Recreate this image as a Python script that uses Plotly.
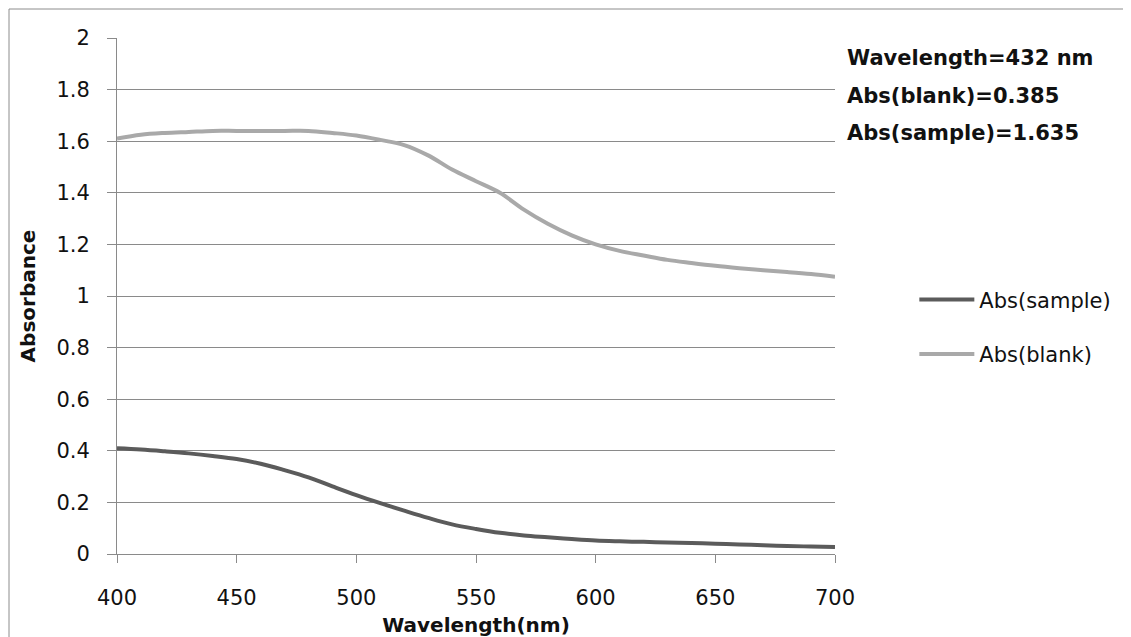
import plotly.graph_objects as go

wavelength = [400, 410, 420, 430, 440, 450, 460, 470, 480, 490, 500, 510, 520, 530, 540, 550,
              560, 570, 580, 590, 600, 610, 620, 630, 640, 650, 660, 670, 680, 690, 700]
abs_sample = [0.41, 0.405, 0.398, 0.39, 0.38, 0.368, 0.35, 0.325, 0.297, 0.262, 0.228, 0.197,
              0.168, 0.14, 0.115, 0.097, 0.082, 0.072, 0.065, 0.058, 0.052, 0.049, 0.047, 0.045,
              0.043, 0.04, 0.037, 0.034, 0.031, 0.029, 0.027]
abs_blank = [1.61, 1.625, 1.632, 1.636, 1.64, 1.64, 1.64, 1.64, 1.64, 1.632, 1.622, 1.605,
             1.585, 1.545, 1.49, 1.445, 1.40, 1.335, 1.28, 1.235, 1.2, 1.175, 1.157, 1.14,
             1.128, 1.117, 1.108, 1.1, 1.093, 1.085, 1.075]
x_ticks = [400, 450, 500, 550, 600, 650, 700]
y_ticks = [0, 0.2, 0.4, 0.6, 0.8, 1, 1.2, 1.4, 1.6, 1.8, 2]
y_tick_labels = ["0", "0.2", "0.4", "0.6", "0.8", "1", "1.2", "1.4", "1.6", "1.8", "2"]
info_lines = ["Wavelength=432 nm", "Abs(blank)=0.385", "Abs(sample)=1.635"]

FONT = "'DejaVu Sans', sans-serif"
GRID = "#8a8a8a"
TXT = "#111111"

fig = go.Figure()
fig.add_trace(go.Scatter(x=wavelength, y=abs_sample, mode="lines", name="Abs(sample)",
                         legendgroup="a", line=dict(color="#5b5b5b", width=4, shape="spline")))
fig.add_trace(go.Scatter(x=wavelength, y=abs_blank, mode="lines", name="Abs(blank)",
                         legendgroup="b", line=dict(color="#a9a9a9", width=4, shape="spline")))

fig.update_layout(
    width=1123, height=629,
    margin=dict(l=109, r=296, t=30, b=83),
    paper_bgcolor="white", plot_bgcolor="white",
    font=dict(family=FONT, size=20, color=TXT),
    showlegend=True,
    legend=dict(x=1.1105, y=0.44, xanchor="left", yanchor="middle",
                font=dict(family=FONT, size=21, color=TXT),
                tracegroupgap=24, itemwidth=55, bgcolor="rgba(0,0,0,0)"),
    xaxis=dict(range=[400, 700], tickvals=x_ticks, ticktext=[str(v) for v in x_ticks],
               showgrid=False, zeroline=False, showline=True, linecolor=GRID, linewidth=1,
               ticks="outside", ticklen=8, tickcolor=GRID, ticklabelstandoff=17,
               tickfont=dict(family=FONT, size=21, color=TXT), automargin=False,
               title=dict(text="<b>Wavelength(nm)</b>", standoff=8,
                          font=dict(family=FONT, size=20, color=TXT))),
    yaxis=dict(range=[0, 2], tickvals=y_ticks, ticktext=y_tick_labels,
               showgrid=True, gridcolor=GRID, gridwidth=1, zeroline=False,
               showline=True, linecolor=GRID, linewidth=1,
               ticks="outside", ticklen=9, tickcolor=GRID, ticklabelstandoff=13,
               tickfont=dict(family=FONT, size=21, color=TXT), automargin=False,
               title=dict(text="<b>Absorbance</b>", standoff=15,
                          font=dict(family=FONT, size=20, color=TXT))),
)

info_y = [58, 96, 133]
for t, yy in zip(info_lines, info_y):
    fig.add_annotation(text="<b>" + t + "</b>", xref="paper", yref="paper",
                       x=(845 - 117) / 718, y=(554 - yy) / 516,
                       xanchor="left", yanchor="middle", showarrow=False,
                       font=dict(family=FONT, size=21, color=TXT))

fig.add_shape(type="rect", xref="paper", yref="paper",
              x0=(9 - 117) / 718, y0=(554 - 660) / 516, x1=(1150 - 117) / 718, y1=(554 - 9) / 516,
              line=dict(color="#8c8c8c", width=1), fillcolor="rgba(0,0,0,0)", layer="below")

fig.write_html("out.html")
